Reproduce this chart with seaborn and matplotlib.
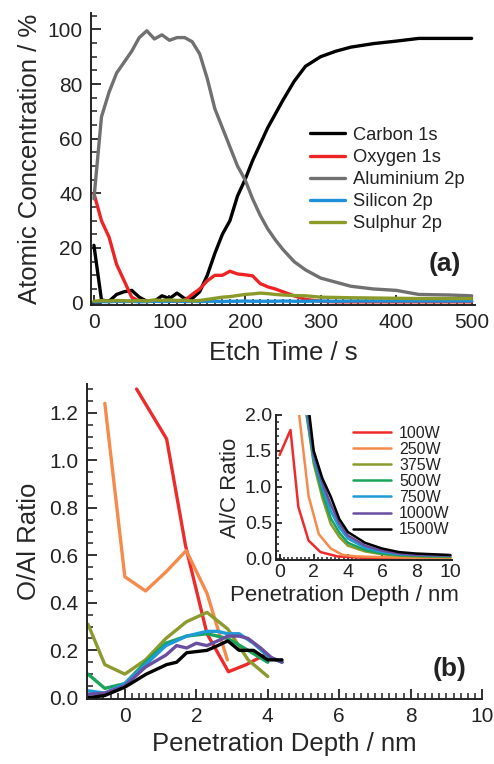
import numpy as np
import pandas as pd
import seaborn as sns
import matplotlib.pyplot as plt
from matplotlib.ticker import MultipleLocator

# ---- (a) XPS depth profile ----
etch_time = [0, 10, 20, 30, 40, 50, 60, 70, 80, 90, 100, 110, 120, 130, 140, 150,
             160, 170, 180, 190, 200, 210, 220, 230, 240, 250, 265, 280, 300, 320,
             340, 370, 400, 430, 470, 500]
carbon = [21, 1, 0.5, 3, 4, 4.5, 2, 0.5, 0.5, 2.5, 1.5, 3.5, 1.5, 1.5, 4, 10,
          18, 25, 30, 39, 45, 52, 58, 64, 69, 74, 81, 86.5, 90, 92, 93.5, 94.8, 95.7, 96.7, 96.7, 96.7]
oxygen = [40, 30, 24, 14, 8, 2, 0.5, 0.5, 0.5, 0.5, 0.5, 0.5, 0.8, 3, 5, 8,
          10, 10, 11.5, 10.5, 10.2, 9.8, 7, 5.8, 5, 4, 2.5, 1.2, 0.5, 0.3, 0.3, 0.3, 0.3, 0.3, 0.3, 0.3]
aluminium = [38, 68, 77, 84, 88, 92, 97, 99.5, 96.5, 98, 96, 97, 97, 95.5, 91, 82,
             71, 64, 57, 50, 45, 38, 32, 27, 23, 19.5, 15, 12, 9, 7.5, 6, 5, 4.5, 3, 2.8, 2.5]
silicon = [0.3, 0.4, 0.3, 0.5, 0.4, 0.5, 0.3, 0.4, 0.5, 0.4, 0.5, 0.6, 0.4, 0.5, 0.4, 0.5,
           0.5, 0.4, 0.5, 0.5, 0.6, 0.5, 0.5, 0.5, 0.5, 0.6, 0.5, 0.5, 0.6, 0.5, 0.6, 0.6, 0.6, 0.6, 0.6, 0.6]
sulphur = [0.5, 0.8, 0.6, 0.8, 0.7, 0.6, 0.8, 0.6, 1.0, 0.8, 1.0, 0.8, 0.9, 0.6, 0.8, 1.2,
           1.6, 2.0, 2.2, 2.6, 3.0, 3.2, 3.5, 3.3, 3.0, 2.8, 2.6, 2.5, 2.0, 1.9, 1.8, 1.7, 1.6, 1.5, 1.5, 1.5]

elements = ['Carbon 1s', 'Oxygen 1s', 'Aluminium 2p', 'Silicon 2p', 'Sulphur 2p']
element_colors = ['#000000', '#ee2424', '#707070', '#1e90d8', '#8c9a2a']

# ---- (b) O/Al ratio vs penetration depth ----
powers = ['100W', '250W', '375W', '500W', '750W', '1000W', '1500W']
power_colors = ['#ee2b2b', '#f58a4b', '#8c9a2e', '#1aa35a', '#1e9ad6', '#6a4fa0', '#000000']

oal_depth = {
    '100W': [0.33, 1.17, 1.7, 2.3, 2.9, 3.4, 3.9],
    '250W': [-0.56, 0.0, 0.58, 1.15, 1.72, 2.3, 2.87],
    '375W': [-1.03, -0.56, 0.0, 0.58, 1.15, 1.72, 2.3, 2.88, 3.45, 4.0],
    '500W': [-1.03, -0.56, 0.0, 0.58, 1.15, 1.72, 2.3, 2.88, 3.45, 4.0],
    '750W': [-1.03, -0.56, 0.0, 0.58, 1.15, 1.73, 2.3, 2.6, 2.88, 3.2, 3.6, 4.05, 4.4],
    '1000W': [-1.03, -0.56, 0.0, 0.58, 1.15, 1.45, 1.73, 2.0, 2.3, 2.6, 2.88, 3.2, 3.45, 3.8, 4.1, 4.4],
    '1500W': [-1.03, -0.56, 0.0, 0.6, 1.17, 1.45, 1.73, 2.3, 2.6, 2.88, 3.2, 3.6, 4.0, 4.4],
}
oal_ratio = {
    '100W': [1.30, 1.09, 0.64, 0.27, 0.11, 0.14, 0.18],
    '250W': [1.24, 0.51, 0.45, 0.53, 0.62, 0.44, 0.16],
    '375W': [0.31, 0.14, 0.10, 0.16, 0.25, 0.32, 0.36, 0.29, 0.16, 0.09],
    '500W': [0.10, 0.04, 0.06, 0.15, 0.23, 0.26, 0.27, 0.25, 0.20, 0.15],
    '750W': [0.03, 0.02, 0.06, 0.14, 0.22, 0.26, 0.28, 0.28, 0.27, 0.27, 0.23, 0.17, 0.15],
    '1000W': [0.015, 0.02, 0.05, 0.13, 0.18, 0.22, 0.21, 0.23, 0.22, 0.24, 0.26, 0.26, 0.25, 0.21, 0.17, 0.15],
    '1500W': [0.0, 0.01, 0.045, 0.10, 0.14, 0.15, 0.19, 0.20, 0.22, 0.24, 0.20, 0.20, 0.16, 0.16],
}

# ---- inset: Al/C ratio ----
alc_depth = {
    '100W': [0.0, 0.64, 1.1, 1.7, 2.4, 3.4, 5.0, 7.0, 10.0],
    '250W': [1.1, 1.7, 2.3, 3.0, 3.7, 4.5, 6.0, 8.0, 10.0],
    '375W': [1.4, 2.0, 2.5, 3.0, 3.5, 4.0, 5.0, 6.0, 7.0, 8.0, 10.0],
    '500W': [1.4, 2.0, 2.5, 3.0, 3.5, 4.0, 5.0, 6.0, 7.0, 8.0, 10.0],
    '750W': [1.45, 2.0, 2.5, 3.0, 3.5, 4.0, 5.0, 6.0, 7.0, 8.0, 10.0],
    '1000W': [1.5, 2.0, 2.5, 3.0, 3.5, 4.0, 5.0, 6.0, 7.0, 8.0, 10.0],
    '1500W': [1.6, 2.0, 2.5, 3.0, 3.5, 4.0, 5.0, 6.0, 7.0, 8.0, 10.0],
}
alc_ratio = {
    '100W': [1.44, 1.79, 0.72, 0.25, 0.09, 0.03, 0.01, 0.01, 0.01],
    '250W': [2.1, 0.87, 0.34, 0.14, 0.05, 0.03, 0.02, 0.01, 0.01],
    '375W': [2.3, 1.32, 0.85, 0.48, 0.30, 0.18, 0.10, 0.06, 0.04, 0.03, 0.02],
    '500W': [2.3, 1.36, 0.92, 0.56, 0.36, 0.22, 0.12, 0.07, 0.05, 0.04, 0.03],
    '750W': [2.3, 1.40, 1.00, 0.66, 0.43, 0.28, 0.15, 0.09, 0.06, 0.05, 0.04],
    '1000W': [2.3, 1.45, 1.06, 0.75, 0.49, 0.32, 0.18, 0.11, 0.07, 0.05, 0.04],
    '1500W': [2.3, 1.50, 1.12, 0.86, 0.55, 0.37, 0.22, 0.14, 0.09, 0.07, 0.05],
}

sns.set_style("ticks")
plt.rcParams['font.family'] = ['Liberation Sans', 'DejaVu Sans']
plt.rcParams['axes.linewidth'] = 1.4
plt.rcParams['axes.edgecolor'] = '#222222'
plt.rcParams['text.color'] = '#222222'
plt.rcParams['xtick.labelcolor'] = '#222222'
plt.rcParams['ytick.labelcolor'] = '#222222'

fig = plt.figure(figsize=(4.94, 7.64), dpi=100)
ax1 = fig.add_axes([0.184, 0.601, 0.777, 0.382])
ax2 = fig.add_axes([0.176, 0.085, 0.80, 0.412])
ax3 = fig.add_axes([0.559, 0.267, 0.356, 0.19])


def style_ticks(ax, size, major_len, minor_len, pad):
    ax.tick_params(which='major', direction='in', length=major_len, width=1.3,
                   labelsize=size, color='#222222', pad=pad)
    ax.tick_params(which='minor', direction='in', length=minor_len, width=1.1, color='#222222')
    sns.despine(ax=ax)


# (a)
profile = pd.DataFrame({'t': etch_time, 'Carbon 1s': carbon, 'Oxygen 1s': oxygen,
                        'Aluminium 2p': aluminium, 'Silicon 2p': silicon, 'Sulphur 2p': sulphur})
for name, col in zip(elements, element_colors):
    sns.lineplot(data=profile, x='t', y=name, color=col, lw=2.4, label=name, ax=ax1)
ax1.set_xlim(-4, 504)
ax1.set_ylim(-0.8, 106)
ax1.xaxis.set_major_locator(MultipleLocator(100))
ax1.xaxis.set_minor_locator(MultipleLocator(10))
ax1.yaxis.set_major_locator(MultipleLocator(20))
ax1.yaxis.set_minor_locator(MultipleLocator(5))
style_ticks(ax1, 15, 7, 4, 6)
ax1.set_xlabel('Etch Time / s', fontsize=18.5, labelpad=6)
ax1.set_ylabel('Atomic Concentration / %', fontsize=18.5, labelpad=4)
ax1.legend(loc='upper left', bbox_to_anchor=(0.552, 0.635), frameon=False, fontsize=13.2,
           handlelength=1.9, handletextpad=0.45, labelspacing=0.28, borderaxespad=0)
ax1.text(0.965, 0.14, '(a)', transform=ax1.transAxes, fontsize=19, fontweight='bold',
         ha='right', va='center')

# (b)
for p, col in zip(powers, power_colors):
    sns.lineplot(x=oal_depth[p], y=oal_ratio[p], color=col, lw=2.4, sort=False, ax=ax2)
ax2.set_xlim(-1.06, 10.0)
ax2.set_ylim(-0.005, 1.32)
ax2.xaxis.set_major_locator(MultipleLocator(2))
ax2.xaxis.set_minor_locator(MultipleLocator(0.2))
ax2.yaxis.set_major_locator(MultipleLocator(0.2))
ax2.yaxis.set_minor_locator(MultipleLocator(0.05))
style_ticks(ax2, 15, 7, 4, 6)
ax2.yaxis.set_major_formatter(plt.FormatStrFormatter('%.1f'))
ax2.set_xlabel('Penetration Depth / nm', fontsize=18.5, labelpad=4)
ax2.set_ylabel('O/Al Ratio', fontsize=18.5, labelpad=6)
ax2.text(0.96, 0.095, '(b)', transform=ax2.transAxes, fontsize=19, fontweight='bold',
         ha='right', va='center')

# inset
for p, col in zip(powers, power_colors):
    sns.lineplot(x=alc_depth[p], y=alc_ratio[p], color=col, lw=1.8, sort=False, label=p, ax=ax3)
ax3.set_xlim(-0.2, 10.1)
ax3.set_ylim(-0.02, 2.0)
ax3.xaxis.set_major_locator(MultipleLocator(2))
ax3.xaxis.set_minor_locator(MultipleLocator(0.25))
ax3.yaxis.set_major_locator(MultipleLocator(0.5))
ax3.yaxis.set_minor_locator(MultipleLocator(0.1))
style_ticks(ax3, 14, 4.5, 2.5, 3)
ax3.patch.set_alpha(0)
ax3.yaxis.set_major_formatter(plt.FormatStrFormatter('%.1f'))
ax3.set_xlabel('Penetration Depth / nm', fontsize=16)
ax3.xaxis.set_label_coords(0.386, -0.175)
ax3.set_ylabel('Al/C Ratio', fontsize=16, labelpad=3)
ax3.legend(loc='upper left', bbox_to_anchor=(0.40, 0.97), frameon=False, fontsize=11.5,
           handlelength=2.4, handletextpad=0.5, labelspacing=0.07, borderaxespad=0)

fig.savefig('out.png', dpi=100)
